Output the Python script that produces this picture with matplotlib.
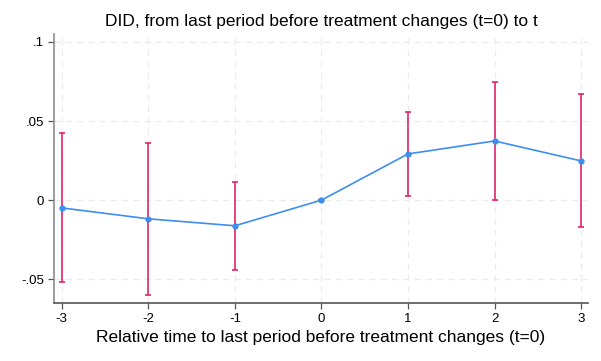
import matplotlib
matplotlib.use("Agg")
import matplotlib.pyplot as plt
import numpy as np

plt.rcParams["font.family"] = ["Liberation Sans", "DejaVu Sans"]
plt.rcParams["axes.unicode_minus"] = False

rel_time = [-3, -2, -1, 0, 1, 2, 3]
estimate = [-0.0049, -0.0118, -0.0162, 0.0, 0.0292, 0.0374, 0.0248]
ci_lower = [-0.0519, -0.0601, -0.0439, 0.0, 0.0027, 0.0004, -0.0168]
ci_upper = [0.0424, 0.0364, 0.0115, 0.0, 0.0559, 0.0746, 0.0668]
y_ticks = [-0.05, 0, 0.05, 0.1]
y_tick_labels = ["-.05", "0", ".05", ".1"]

line_color = "#3d8ef0"
ci_color = "#e0256a"

fig = plt.figure(figsize=(6.01, 3.61), dpi=100)
ax = fig.add_axes([54 / 601, 58 / 361, (588 - 54) / 601, (303 - 34) / 361])

est = np.array(estimate)
lo = np.array(ci_lower)
hi = np.array(ci_upper)
ax.errorbar(rel_time, est, yerr=[est - lo, hi - est], fmt="none",
            ecolor=ci_color, elinewidth=1.2, capsize=2, capthick=1.2, zorder=2)
ax.plot(rel_time, estimate, color=line_color, lw=1.2, marker="o", ms=3.5,
        mfc=line_color, mec=line_color, zorder=3)

ax.set_xlim(-3.09, 3.08)
ax.set_ylim(-0.065, 0.105)
ax.set_xticks(rel_time)
ax.set_yticks(y_ticks)
ax.set_yticklabels(y_tick_labels)
ax.grid(True, color="#ebebeb", ls=(0, (5, 4)), lw=0.9)
ax.set_axisbelow(True)

for side in ["top", "right"]:
    ax.spines[side].set_visible(False)
ax.spines["left"].set_color("#8c8c8c")
ax.spines["bottom"].set_color("#555555")
ax.spines["left"].set_linewidth(1.2)
ax.spines["bottom"].set_linewidth(1.2)
ax.tick_params(axis="both", labelsize=9.5, length=4, width=0.9, color="#555555")
ax.tick_params(axis="y", pad=3)

ax.set_title("DID, from last period before treatment changes (t=0) to t",
             fontsize=12.5, pad=6)
ax.set_xlabel("Relative time to last period before treatment changes (t=0)",
              fontsize=12.5, labelpad=3)

fig.savefig("out.png", dpi=100)
